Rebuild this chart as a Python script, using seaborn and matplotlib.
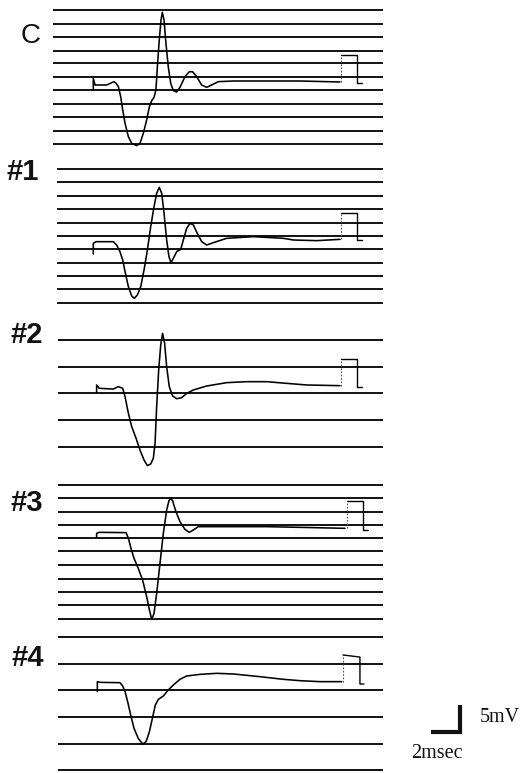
import numpy as np
import matplotlib
matplotlib.use("Agg")
import matplotlib.pyplot as plt
import seaborn as sns

sns.set_theme(style="white")
plt.rcParams["font.family"] = ["Liberation Sans", "DejaVu Sans"]

# ---- recorded sweeps: time (ms) from sweep onset, potential (mV) relative to pre-stimulus level ----
c_t = [0.02, 0.02, 0.14, 0.94, 1.29, 1.45, 1.59, 1.75, 1.91, 2.05, 2.21, 2.44, 2.67, 3.01,
       3.24, 3.47, 3.70, 3.89, 4.05, 4.21, 4.34, 4.44, 4.57, 4.69, 4.78, 4.90, 5.03, 5.19,
       5.36, 5.54, 5.77, 6.00, 6.34, 6.64, 6.87, 7.15, 7.49, 7.84, 8.18, 8.64, 9.68, 12.00,
       14.28, 17.03]
c_v = [-0.93, 1.23, 0.00, 0.00, 0.43, 0.62, 0.31, -0.31, -2.16, -4.63, -7.10, -9.57, -10.80, -11.23,
       -10.80, -8.95, -6.48, -4.01, -2.90, -2.28, -0.93, 3.40, 8.33, 12.04, 13.46, 12.04, 7.72, 3.40,
       0.31, -1.05, -1.30, -0.43, 1.54, 2.46, 2.46, 1.54, 0.00, -0.43, 0.00, 0.62, 0.74, 0.74,
       0.74, 0.56]

s1_t = [0.02, 0.02, 0.21, 1.40, 1.63, 1.86, 2.05, 2.21, 2.44, 2.67, 2.85, 3.06, 3.29, 3.52,
        3.75, 3.98, 4.21, 4.39, 4.57, 4.74, 4.90, 5.08, 5.24, 5.38, 5.54, 5.77, 6.05, 6.23,
        6.46, 6.69, 6.92, 7.19, 7.50, 7.84, 8.30, 9.22, 11.06, 13.13, 13.82, 15.43, 17.03]
s1_v = [-2.22, -0.25, 0.06, 0.06, -0.56, -1.79, -3.33, -5.49, -8.27, -10.00, -10.43, -9.81, -8.27, -5.19,
        -1.48, 2.84, 6.54, 9.01, 10.12, 9.01, 5.31, 0.37, -2.72, -3.83, -3.02, -1.79, -1.36, 0.37,
        2.53, 3.46, 3.15, 1.60, 0.06, -0.56, -0.12, 0.68, 0.99, 0.68, 0.37, 0.25, 0.49]

s2_t = [0.25, 0.25, 0.43, 1.40, 1.75, 2.05, 2.21, 2.44, 2.67, 2.97, 3.24, 3.52, 3.75, 3.98,
        4.16, 4.28, 4.39, 4.53, 4.67, 4.80, 4.94, 5.08, 5.26, 5.49, 5.77, 6.11, 6.46, 6.92,
        7.84, 9.22, 10.60, 11.98, 13.36, 14.74, 17.03]
s2_v = [-0.86, 0.56, -0.06, -0.19, 0.25, -0.06, -1.60, -4.69, -7.16, -9.32, -11.48, -13.33, -14.38, -14.07,
        -13.02, -10.25, -3.46, 3.33, 7.96, 10.12, 8.27, 3.95, 0.25, -1.48, -1.98, -1.80, -0.99, -0.37,
        0.37, 0.99, 1.17, 1.17, 0.86, 0.56, 0.43]

s3_t = [0.25, 0.25, 0.43, 2.28, 2.44, 2.62, 2.83, 3.12, 3.42, 3.70, 3.89, 4.05, 4.21, 4.39,
        4.62, 4.85, 5.08, 5.24, 5.36, 5.49, 5.72, 6.00, 6.34, 6.64, 6.92, 7.26, 8.30, 11.98,
        14.28, 17.38]
s3_v = [-0.99, -0.25, -0.06, -0.12, -1.17, -3.02, -4.88, -6.73, -8.89, -11.98, -14.44, -16.17, -15.06, -11.36,
        -5.80, -0.25, 4.07, 5.80, 6.23, 5.80, 3.77, 1.91, 0.49, -0.06, 0.37, 0.99, 0.99, 0.99,
        0.86, 0.68]

s4_t = [0.30, 0.30, 0.48, 1.86, 2.05, 2.21, 2.39, 2.60, 2.83, 3.12, 3.42, 3.66, 3.89, 4.12,
        4.30, 4.51, 4.85, 5.19, 5.54, 6.00, 6.46, 7.38, 8.53, 9.68, 11.52, 13.13, 14.28, 15.66,
        17.15]
s4_v = [-1.60, 0.25, 0.12, 0.06, -0.56, -1.60, -3.46, -5.93, -8.40, -10.25, -11.30, -10.86, -9.01, -6.23,
        -4.07, -3.02, -2.41, -1.30, -0.37, 0.68, 1.30, 1.60, 1.79, 1.67, 1.17, 0.68, 0.43, 0.25,
        0.25]

# 5 mV calibration pulse at the end of each sweep: rise, plateau, fall, tail
c_pulse_t = [17.10, 17.10, 18.21, 18.21, 18.55]
c_pulse_v = [0.56, 5.56, 5.56, 0.37, 0.37]
s1_pulse_t = [17.10, 17.10, 18.21, 18.21, 18.55]
s1_pulse_v = [0.49, 5.37, 5.37, 0.37, 0.37]
s2_pulse_t = [17.10, 17.10, 18.21, 18.21, 18.55]
s2_pulse_v = [0.43, 5.37, 5.37, 0.19, 0.19]
s3_pulse_t = [17.52, 17.52, 18.62, 18.62, 18.97]
s3_pulse_v = [0.68, 5.74, 5.74, 0.37, 0.37]
s4_pulse_t = [17.24, 17.24, 18.41, 18.41, 18.69]
s4_pulse_v = [0.25, 5.19, 4.80, -0.19, -0.19]

# reference grid levels (mV) drawn behind each sweep
c_levels = [13.89, 11.30, 8.89, 6.30, 4.07, 1.48, -0.93, -3.52, -5.93, -8.52, -10.93]
s1_levels = [13.52, 11.11, 8.52, 6.11, 3.52, 1.11, -1.30, -3.89, -6.30, -8.70, -11.30]
s2_levels = [8.89, 3.89, -0.93, -5.93, -10.93]
s3_levels = [8.70, 6.30, 3.70, 1.30, -1.11, -3.52, -6.11, -8.70, -11.11, -13.52, -16.11]
s4_levels = [8.52, 3.52, -1.30, -6.30, -11.30, -16.11]

panel_labels = ["C", "#1", "#2", "#3", "#4"]

# scale bar
bar_ms = 2
bar_mv = 5
bar_ms_label = "2msec"
bar_mv_label = "5mV"

# ---- layout (pixels on a 525 x 773 canvas) ----
W, H = 525, 773
PX_MS = 14.5      # horizontal pixels per ms
PX_MV = 5.4       # vertical pixels per mV
X0 = 93           # pixel column of t = 0
baseline_rows = [85, 242, 388, 532, 683]
grid_start_px = [53, 57, 58, 58, 58]
grid_end_px = 383
label_pos_px = [(31, 36), (23, 172), (27, 335), (27, 503), (28, 658)]


def tx(px):
    return (px - X0) / PX_MS


def vy(px):
    return -px / PX_MV


fig = plt.figure(figsize=(W / 100, H / 100), dpi=100)
ax = fig.add_axes([0, 0, 1, 1])
ax.set_xlim(tx(0), tx(W))
ax.set_ylim(vy(H), vy(0))
ax.axis("off")

ink = "#111111"
sweeps = [
    (c_t, c_v, c_pulse_t, c_pulse_v, c_levels),
    (s1_t, s1_v, s1_pulse_t, s1_pulse_v, s1_levels),
    (s2_t, s2_v, s2_pulse_t, s2_pulse_v, s2_levels),
    (s3_t, s3_v, s3_pulse_t, s3_pulse_v, s3_levels),
    (s4_t, s4_v, s4_pulse_t, s4_pulse_v, s4_levels),
]

for i, (t, v, pt, pv, levels) in enumerate(sweeps):
    off = vy(baseline_rows[i])
    ax.hlines(np.asarray(levels) + off, tx(grid_start_px[i]), tx(grid_end_px),
              color=ink, lw=1.4, zorder=1)
    sns.lineplot(x=t, y=np.asarray(v) + off, sort=False, estimator=None,
                 color="black", lw=1.15, ax=ax, zorder=3,
                 solid_joinstyle="round", solid_capstyle="round")
    # fast rising edge of the pulse barely registers on the trace
    ax.plot(pt[:2], np.asarray(pv[:2]) + off, color="#555555", lw=0.8,
            ls=(0, (1.5, 1.5)), zorder=3)
    sns.lineplot(x=pt[1:], y=np.asarray(pv[1:]) + off, sort=False, estimator=None,
                 color="black", lw=1.0, ax=ax, zorder=3)
    lx, ly = label_pos_px[i]
    if panel_labels[i] == "C":
        ax.text(tx(lx), vy(ly), panel_labels[i], fontsize=20, ha="center", va="center",
                color=ink)
    else:
        ax.text(tx(lx), vy(ly), panel_labels[i], fontsize=21, fontweight="bold",
                ha="center", va="center", color=ink)

# scale bar
corner_t, corner_y = tx(460), vy(732)
ax.plot([corner_t - bar_ms, corner_t, corner_t],
        [corner_y, corner_y, corner_y + bar_mv], color=ink, lw=3.0,
        solid_joinstyle="miter", solid_capstyle="butt")
ax.text(tx(480), vy(718), bar_mv_label, fontsize=14.5, ha="left", va="center",
        family=["Liberation Serif", "DejaVu Serif"], color=ink)
ax.text(tx(437), vy(754), bar_ms_label, fontsize=14.5, ha="center", va="center",
        family=["Liberation Serif", "DejaVu Serif"], color=ink)

fig.savefig("out.png", dpi=100, facecolor="white")
